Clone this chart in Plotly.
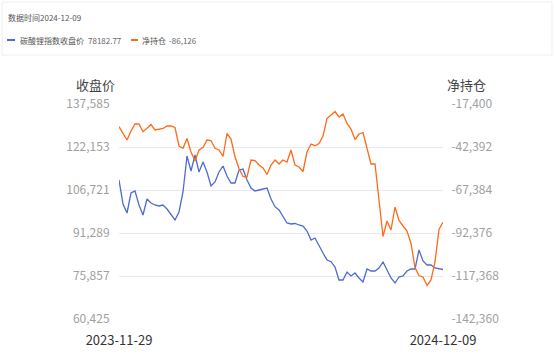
import plotly.graph_objects as go
import pandas as pd

start_date = "2023-11-29"
end_date = "2024-12-09"

close_price = [
    110310, 101697, 98467, 105645, 106362, 101338, 97749, 103491, 102056, 101338,
    100979, 101338, 99903, 98108, 95955, 98826, 106004, 118923, 113540, 119282,
    113181, 116770, 113181, 108157, 109592, 113181, 115334, 111746, 109233, 109233,
    113899, 114258, 110310, 107439, 106362, 106721, 107080, 107439, 103491, 100728,
    99544, 97390, 94878, 94519, 94699, 94161, 93802, 92007, 88777, 89495,
    86624, 84112, 81600, 80990, 79088, 74422, 74422, 77293, 75858, 76934,
    75140, 73704, 78370, 77652, 77652, 78729, 80882, 78011, 75140, 73345,
    75499, 75858, 77652, 78370, 78370, 85189, 81241, 79805, 79805, 78729,
    78370, 78182.77,
]

net_position = [
    -30593, -34255, -38324, -33093, -29024, -29024, -33500, -31523, -29315, -32511,
    -32221, -31640, -30187, -30187, -31058, -41811, -43148, -37452, -45298, -50529,
    -44136, -42683, -38324, -38614, -43148, -44136, -47914, -34546, -37742, -48030,
    -54888, -59538, -59828, -49948, -50238, -52854, -54597, -58375, -52854, -49948,
    -52273, -49948, -51110, -44136, -52854, -54016, -56632, -45298, -40648, -41636,
    -40358, -35999, -25828, -23793, -21759, -24956, -23212, -28734, -31930, -38033,
    -34836, -33965, -42973, -52273, -52273, -75521, -94410, -85402, -90632, -77265,
    -85111, -88308, -91214, -98479, -112428, -117078, -117949, -122890, -119693, -109231,
    -90342, -86126,
]

left_ticks = [60425, 75857, 91289, 106721, 122153, 137585]
right_ticks = [-142360, -117368, -92376, -67384, -42392, -17400]

dates = pd.date_range(start_date, end_date, periods=len(close_price))

BLUE = "#4e6bd2"
ORANGE = "#ff6a17"
FONT = "Noto Sans CJK SC"

W, H = 554, 356
L, R, T, B = 119, 443, 104, 319


def px(x):
    return (x - L) / (R - L)


def py(y):
    return (B - y) / (B - T)


fig = go.Figure()
fig.add_trace(go.Scatter(x=dates, y=close_price, mode="lines",
                         line=dict(color=BLUE, width=1.3), name="碳酸锂指数收盘价"))
fig.add_trace(go.Scatter(x=dates, y=net_position, mode="lines", yaxis="y2",
                         line=dict(color=ORANGE, width=1.3), name="净持仓"))

fig.update_layout(
    width=W, height=H,
    margin=dict(l=L, r=W - R, t=T, b=H - B, autoexpand=False),
    paper_bgcolor="white", plot_bgcolor="white",
    showlegend=False,
    font=dict(family=FONT),
    xaxis=dict(
        type="date", automargin=False,
        range=[dates[0], dates[-1]],
        tickvals=[dates[0], dates[-1]],
        ticktext=[start_date, end_date],
        showgrid=False, zeroline=False, showline=False,
        ticks="outside", ticklen=9, tickcolor="rgba(0,0,0,0)",
        tickfont=dict(size=13, color="#333333", family=FONT),
    ),
    yaxis=dict(
        automargin=False,
        range=[left_ticks[0], left_ticks[-1]],
        tickvals=left_ticks,
        ticktext=[f"{v:,}" for v in left_ticks],
        showgrid=True, gridcolor="#e6e9f1", gridwidth=1,
        zeroline=False, showline=False,
        ticks="outside", ticklen=6, tickcolor="rgba(0,0,0,0)",
        tickfont=dict(size=12, color="#a0a0a0", family=FONT),
    ),
    yaxis2=dict(
        automargin=False,
        range=[right_ticks[0], right_ticks[-1]],
        tickvals=right_ticks,
        ticktext=[f"{v:,}" for v in right_ticks],
        overlaying="y", side="right",
        showgrid=False, zeroline=False, showline=False,
        ticks="outside", ticklen=5, tickcolor="rgba(0,0,0,0)",
        tickfont=dict(size=12, color="#a0a0a0", family=FONT),
    ),
)

shapes = [
    dict(type="rect", xref="paper", yref="paper",
         x0=px(2), x1=px(552), y0=py(2), y1=py(55),
         line=dict(color="#eeeeee", width=1), fillcolor="white", layer="below"),
    dict(type="line", xref="paper", yref="paper",
         x0=px(7), x1=px(15), y0=py(40), y1=py(40),
         line=dict(color=BLUE, width=2)),
    dict(type="line", xref="paper", yref="paper",
         x0=px(131), x1=px(138), y0=py(40), y1=py(40),
         line=dict(color=ORANGE, width=2)),
]
fig.update_layout(shapes=shapes)

def ann(x, y, text, size, color, xanchor="left"):
    return dict(x=px(x), y=py(y), xref="paper", yref="paper", text=text,
                showarrow=False, xanchor=xanchor, yanchor="middle",
                font=dict(size=size, color=color, family=FONT))

annotations = [
    ann(6, 17, "数据时间" + end_date, 8, "#555555"),
    ann(18, 40, "碳酸锂指数收盘价", 8, "#555555"),
    ann(86, 40, f"{close_price[-1]:.2f}", 8, "#666666"),
    ann(140, 40, "净持仓", 8, "#555555"),
    ann(167, 40, f"{net_position[-1]:,}", 8, "#666666"),
    ann(95, 84, "收盘价", 13, "#444444", xanchor="center"),
    ann(466, 84, "净持仓", 13, "#444444", xanchor="center"),
]
fig.update_layout(annotations=annotations)

fig.write_html(
    "out.html",
    config={"displayModeBar": False},
    post_script="document.body.style.margin='0';document.body.style.padding='0';",
)
